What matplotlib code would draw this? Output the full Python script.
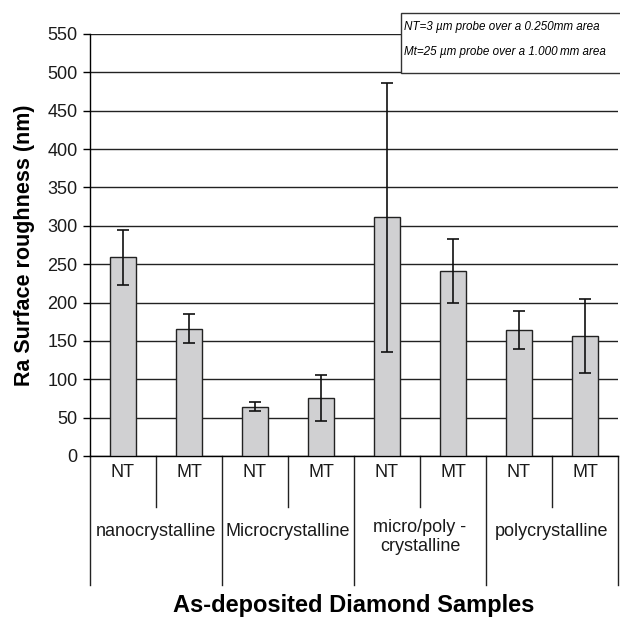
import matplotlib.pyplot as plt
import matplotlib.transforms as mtransforms
from matplotlib.patches import Rectangle

plt.rcParams['font.family'] = ['Liberation Sans', 'DejaVu Sans']

# data
groups = ['nanocrystalline', 'Microcrystalline', 'micro/poly -\ncrystalline', 'polycrystalline']
probes = ['NT', 'MT', 'NT', 'MT', 'NT', 'MT', 'NT', 'MT']
ra_values = [259, 166, 64, 76, 311, 241, 164, 156]
ra_errors = [36, 19, 6, 30, 175, 42, 25, 48]
yticks = list(range(0, 551, 50))
note_lines = ['NT=3 µm probe over a 0.250mm area',
              'Mt=25 µm probe over a 1.000\u2009mm area']

fig = plt.figure(figsize=(6.2, 6.18), dpi=100)
ax = fig.add_axes([90 / 620, 1 - 456 / 618, 528 / 620, 422 / 618])

xpos = list(range(len(ra_values)))
ax.bar(xpos, ra_values, width=0.4, color='#d0d0d2', edgecolor='#222222',
       linewidth=1.0, zorder=3)
ax.errorbar(xpos, ra_values, yerr=ra_errors, fmt='none', ecolor='#111111',
            elinewidth=1.2, capsize=4, capthick=1.2, zorder=4)

ax.set_xlim(-0.5, len(ra_values) - 0.5)
ax.set_ylim(0, 550)
ax.set_yticks(yticks)
ax.yaxis.grid(True, color='#222222', linewidth=1.0)
ax.set_axisbelow(True)
ax.tick_params(axis='y', direction='out', length=5, width=1, labelsize=13,
               pad=4, labelcolor='#1a1a1a')
ax.tick_params(axis='x', bottom=False, labelbottom=False)
for s in ['top', 'right']:
    ax.spines[s].set_visible(False)
ax.spines['left'].set_linewidth(1.0)
ax.spines['bottom'].set_linewidth(1.0)
ax.set_ylabel('Ra Surface roughness (nm)', fontsize=15.5, fontweight='bold',
              labelpad=9)

# category axis drawn below the plot
trans = mtransforms.blended_transform_factory(ax.transData, ax.transAxes)
line_kw = dict(color='#222222', linewidth=1.0, clip_on=False, transform=trans)
for i, p in enumerate(probes):
    ax.text(i, -0.039, p, ha='center', va='center', fontsize=13,
            color='#1a1a1a', transform=trans)
    if i % 2 == 1:
        ax.plot([i - 0.5, i - 0.5], [0, -0.121], **line_kw)
for g in range(len(groups) + 1):
    ax.plot([2 * g - 0.5, 2 * g - 0.5], [0, -0.306], **line_kw)
for g, name in enumerate(groups):
    ypos = -0.192 if '\n' in name else -0.180
    ax.text(2 * g + 0.5, ypos, name, ha='center', va='center', fontsize=13,
            linespacing=1.15, color='#1a1a1a', transform=trans)

fig.text(354 / 620, 1 - 612 / 618, 'As-deposited Diamond Samples', ha='center',
         va='baseline', fontsize=17, fontweight='bold')

# note box at top right
fig.patches.append(Rectangle((401 / 620, 1 - 72.5 / 618), 0.4, 59.5 / 618,
                             transform=fig.transFigure, facecolor='white',
                             edgecolor='#333333', linewidth=1.0, zorder=5))
for k, line in enumerate(note_lines):
    fig.text(404 / 620, 1 - (27 + 25 * k) / 618, line, ha='left', va='center',
             fontsize=8.4, style='italic', zorder=6)

fig.savefig('out.png', dpi=100)
